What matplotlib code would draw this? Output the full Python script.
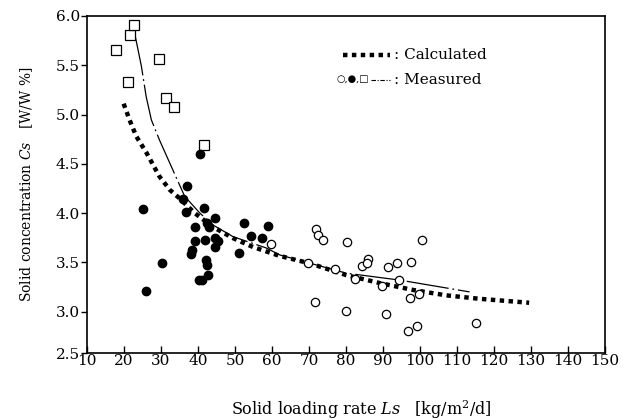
import matplotlib
matplotlib.use('Agg')
import matplotlib.pyplot as plt
from matplotlib.lines import Line2D

plt.rcParams['font.family'] = ['DejaVu Serif', 'DejaVu Sans']
plt.rcParams['mathtext.fontset'] = 'dejavuserif'

# 1. DATA
# open squares
sq_x = [17.8, 21.7, 22.8, 21.2, 29.5, 31.3, 33.4, 41.6]
sq_y = [5.655, 5.81, 5.91, 5.33, 5.56, 5.165, 5.08, 4.695]

# filled circles
fc_x = [40.5, 37.0, 35.9, 36.7, 25.0, 25.9, 30.4, 41.6, 39.1, 42.3, 43.0, 44.7,
        39.2, 42.0, 44.7, 45.4, 44.7, 38.5, 38.0, 42.1, 42.5, 42.7, 40.2, 41.1,
        51.1, 52.4, 54.4, 57.4, 58.9]
fc_y = [4.60, 4.27, 4.14, 4.015, 4.04, 3.21, 3.49, 4.05, 3.86, 3.90, 3.855, 3.955,
        3.715, 3.73, 3.75, 3.72, 3.655, 3.63, 3.58, 3.525, 3.475, 3.37, 3.32, 3.32,
        3.59, 3.90, 3.77, 3.75, 3.87]

# open circles
oc_x = [59.7, 72.0, 72.3, 73.8, 80.4, 69.8, 77.0, 82.4, 84.2, 85.9, 85.8, 91.4,
        93.7, 97.7, 100.5, 89.8, 94.3, 97.2, 99.6, 71.5, 80.1, 90.9, 96.8, 99.2, 115.1]
oc_y = [3.685, 3.843, 3.78, 3.725, 3.705, 3.495, 3.43, 3.33, 3.46, 3.535, 3.49, 3.45,
        3.49, 3.505, 3.725, 3.26, 3.32, 3.14, 3.18, 3.10, 3.01, 2.98, 2.80, 2.855, 2.88]

# calculated curve
calc_x = [19.9, 21.5, 23.3, 26.1, 29.6, 32.4, 35.0, 39.1, 44.0, 49.5, 54.9, 62.1,
          70.2, 80.1, 89.1, 98.1, 107.1, 116.1, 129.5]
calc_y = [5.11, 4.945, 4.78, 4.61, 4.37, 4.235, 4.15, 4.0, 3.86, 3.745, 3.655, 3.565,
          3.49, 3.37, 3.29, 3.22, 3.165, 3.13, 3.09]

# measured (fitted) curve
meas_x = [22.9, 24.7, 26.0, 27.4, 29.6, 32.4, 34.6, 36.4, 40.5, 44.0, 49.5, 58.5,
          62.1, 80.1, 94.5, 113.4]
meas_y = [5.82, 5.49, 5.18, 4.945, 4.74, 4.505, 4.32, 4.17, 4.0, 3.88, 3.76, 3.645,
          3.575, 3.39, 3.32, 3.2]

x_ticks = list(range(10, 151, 10))
y_ticks = [2.58, 3.0, 3.5, 4.0, 4.5, 5.0, 5.5, 6.0]
y_labels = ['2.5', '3.0', '3.5', '4.0', '4.5', '5.0', '5.5', '6.0']

# 2. FIGURE
fig = plt.figure(figsize=(6.25, 4.2), dpi=100)
ax = fig.add_axes([0.1392, 0.1595, 0.8288, 0.8025])

ax.plot(calc_x, calc_y, color='black', lw=3.2, linestyle=(0, (1, 1)),
        dash_capstyle='butt')
ax.plot(meas_x, meas_y, color='black', lw=0.9, linestyle=(0, (34, 3, 1.5, 3)))

ax.plot(sq_x, sq_y, 's', ms=6.5, mfc='white', mec='black', mew=0.9)
ax.plot(fc_x, fc_y, 'o', ms=6, mfc='black', mec='black')
ax.plot(oc_x, oc_y, 'o', ms=6, mfc='white', mec='black', mew=0.9)

ax.set_xlim(10, 150)
ax.set_ylim(2.58, 6.0)
ax.set_xticks(x_ticks)
ax.set_yticks(y_ticks)
ax.set_yticklabels(y_labels)
ax.tick_params(axis='x', direction='in', length=5, width=1, labelsize=11, pad=1)
ax.tick_params(axis='y', direction='out', length=4, width=1, labelsize=11, pad=1)
for s in ax.spines.values():
    s.set_linewidth(1.2)

ax.set_xlabel(r'Solid loading rate $\it{Ls}$   [kg/m$^2$/d]', fontsize=11.5)
ax.xaxis.set_label_coords(0.53, -0.135)
ax.set_ylabel(r'Solid concentration $\it{Cs}$   [W/W %]', fontsize=10, labelpad=15)

# 3. LEGEND (hand placed, like the scan)
ax.add_line(Line2D([0.495, 0.585], [0.883, 0.883], transform=ax.transAxes,
                   color='black', lw=3.2, linestyle=(0, (1, 1)), dash_capstyle='butt'))
ax.text(0.593, 0.883, ': Calculated', transform=ax.transAxes, fontsize=11, va='center')
ax.text(0.545, 0.81, '○,●,□', transform=ax.transAxes, fontsize=7, va='center', ha='right')
ax.add_line(Line2D([0.548, 0.585], [0.81, 0.81], transform=ax.transAxes,
                   color='black', lw=0.8, linestyle=(0, (4, 1.5, 1, 1.5))))
ax.text(0.593, 0.81, ': Measured', transform=ax.transAxes, fontsize=11, va='center')

plt.savefig('out.png', dpi=100, facecolor='white')
